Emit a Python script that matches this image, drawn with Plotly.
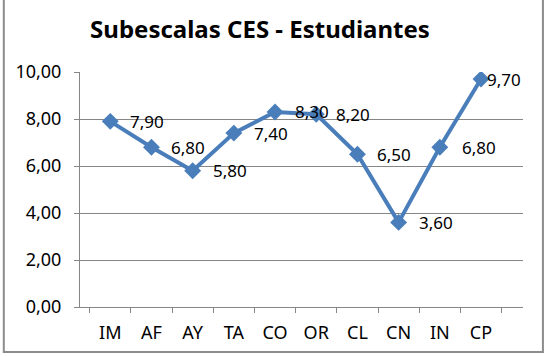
import plotly.graph_objects as go

categories = ["IM", "AF", "AY", "TA", "CO", "OR", "CL", "CN", "IN", "CP"]
values = [7.90, 6.80, 5.80, 7.40, 8.30, 8.20, 6.50, 3.60, 6.80, 9.70]
label_shift = [18, 18, 18, 18, 18, 18, 18, 18, 20, 4]

FONT = "Noto Sans"
BLUE = "#4A7EBB"
GRID = "#868686"

fig = go.Figure()
fig.add_trace(go.Scatter(
    x=categories, y=values, mode="lines+markers",
    line=dict(color=BLUE, width=4),
    marker=dict(symbol="diamond", size=13, color=BLUE),
    hoverinfo="skip", showlegend=False,
))

for c, v, s in zip(categories, values, label_shift):
    fig.add_annotation(
        x=c, y=v, text=f"{v:.2f}".replace(".", ","), showarrow=False,
        xanchor="left", yanchor="middle", xshift=s,
        font=dict(family=FONT, size=17, color="#000000"),
    )

fig.add_shape(type="rect", xref="paper", yref="paper",
              x0=-0.172, x1=1.045, y0=-0.192, y1=1.36,
              line=dict(color="#8C8C8C", width=2))

fig.update_layout(
    width=549, height=356,
    margin=dict(l=80, r=26, t=72, b=49),
    paper_bgcolor="white", plot_bgcolor="white",
    separators=",.",
    title=dict(text="<b>Subescalas CES - Estudiantes</b>",
               x=260/549, xanchor="center", y=1-30/356, yanchor="middle",
               font=dict(family=FONT, size=24, color="#000000")),
    xaxis=dict(type="category", tickson="boundaries", ticks="outside",
               ticklen=5, tickcolor=GRID, showline=True, linecolor=GRID,
               linewidth=1, showgrid=False, ticklabelstandoff=9,
               tickfont=dict(family=FONT, size=18, color="#000000")),
    yaxis=dict(range=[0, 10], dtick=2, tickformat=".2f", ticks="outside",
               ticklen=5, tickcolor=GRID, showline=True, linecolor=GRID,
               linewidth=1, showgrid=True, gridcolor=GRID, gridwidth=1,
               zeroline=False, ticklabelstandoff=9,
               tickfont=dict(family=FONT, size=18, color="#000000")),
)

fig.write_html("out.html")
